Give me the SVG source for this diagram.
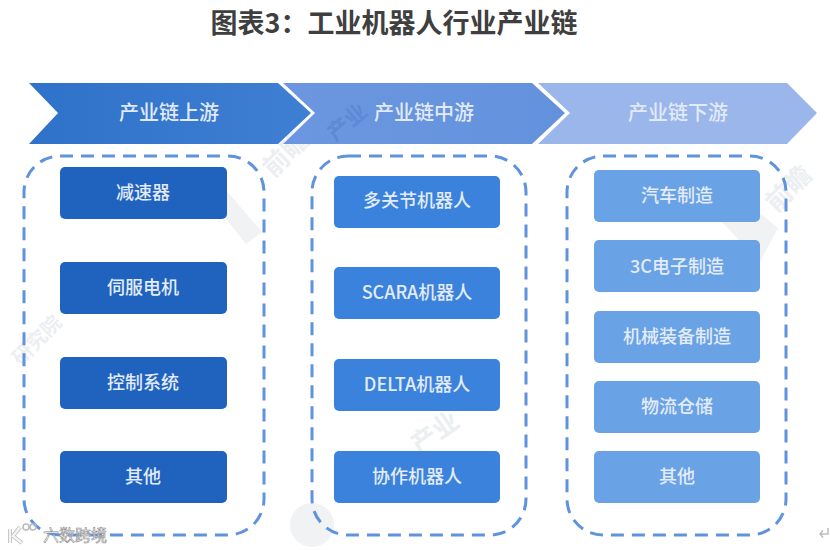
<svg xmlns="http://www.w3.org/2000/svg" width="830" height="550" viewBox="0 0 830 550">
<defs>
<style>
text{font-family:"Noto Sans CJK SC","Liberation Sans",sans-serif;text-anchor:middle}
.h{font-size:20px;font-weight:500;fill:#e1eaf8}
.n{font-size:18px;font-weight:500;fill:#e3ecf8}
.a{fill:#1f63bf}.b{fill:#3b82dc}.c{fill:#6aa2e6}
.d{fill:none;stroke:#5f93dc;stroke-width:3;stroke-dasharray:13 8}
.w{font-weight:700;fill:#eceff2}
.s{fill:#f1f2f4}
</style>
<linearGradient id="g1" x1="0" x2="1" y1="0" y2="0"><stop offset="0" stop-color="#2e72c9"/><stop offset="1" stop-color="#3f7fd3"/></linearGradient>
<linearGradient id="g2" x1="0" x2="1" y1="0" y2="0"><stop offset="0" stop-color="#6c97e0"/><stop offset="1" stop-color="#6392dc"/></linearGradient>
</defs>
<rect width="830" height="550" fill="#fff"/>
<g id="watermark">
<circle class="s" cx="312" cy="525" r="22"/>
<path class="s" d="M226 190 L262 232 L246 244 L214 204Z"/>
<path class="s" d="M722 222 L760 262 L778 228 L750 205Z"/>
<text class="w" x="0" y="0" transform="translate(292 160) rotate(-45)" style="font-size:26px">前瞻</text>
<text class="w" x="0" y="0" transform="translate(42 345) rotate(-45)" style="font-size:20px">研究院</text>
<text class="w" x="0" y="0" transform="translate(795 195) rotate(-45)" style="font-size:26px">前瞻</text>
<text class="w" x="0" y="0" transform="translate(440 440) rotate(-35)" style="font-size:26px">产业</text>
</g>
<text x="394" y="33" style="font-size:27px;font-weight:700;fill:#3f3f3f">图表3：工业机器人行业产业链</text>
<g id="connectors"></g>
<g id="stage-up"><polygon points="29,83 278,83 311,113 278,144 29,144 58,113" fill="url(#g1)"/><text class="h" x="169" y="120">产业链上游</text></g>
<g id="stage-mid"><polygon points="283,83 532,83 565,113 532,144 283,144 315,113" fill="url(#g2)"/><text class="w" x="0" y="0" transform="translate(352 128) rotate(-40)" style="font-size:22px;fill:#5d8ad6">产业</text><text class="h" x="424" y="120">产业链中游</text></g>
<g id="stage-down"><polygon points="538,83 787,83 817,113 787,144 538,144 570,113" fill="#9bb6ea"/><text class="h" x="678" y="120">产业链下游</text></g>
<g id="panel-up"><rect class="d" x="24" y="156" width="240" height="379" rx="36"/></g>
<g id="panel-mid"><rect class="d" x="312" y="156" width="214" height="379" rx="36"/></g>
<g id="panel-down"><rect class="d" x="567" y="156" width="219" height="379" rx="36"/></g>
<g id="n1"><rect class="a" x="60" y="167" width="167" height="52" rx="5"/><text class="n" x="143" y="199">减速器</text></g>
<g id="n2"><rect class="a" x="60" y="262" width="167" height="52" rx="5"/><text class="n" x="143" y="294">伺服电机</text></g>
<g id="n3"><rect class="a" x="60" y="357" width="167" height="52" rx="5"/><text class="n" x="143" y="389">控制系统</text></g>
<g id="n4"><rect class="a" x="60" y="451" width="167" height="52" rx="5"/><text class="n" x="143" y="483">其他</text></g>
<g id="n5"><rect class="b" x="334" y="176" width="166" height="52" rx="5"/><text class="n" x="417" y="207">多关节机器人</text></g>
<g id="n6"><rect class="b" x="334" y="267" width="166" height="52" rx="5"/><text class="n" x="417" y="299">SCARA机器人</text></g>
<g id="n7"><rect class="b" x="334" y="359" width="166" height="52" rx="5"/><text class="n" x="417" y="391">DELTA机器人</text></g>
<g id="n8"><rect class="b" x="334" y="451" width="166" height="52" rx="5"/><text class="n" x="417" y="483">协作机器人</text></g>
<g id="n9"><rect class="c" x="594" y="170" width="166" height="52" rx="5"/><text class="n" x="677" y="202">汽车制造</text></g>
<g id="n10"><rect class="c" x="594" y="240" width="166" height="52" rx="5"/><text class="n" x="677" y="273">3C电子制造</text></g>
<g id="n11"><rect class="c" x="594" y="311" width="166" height="52" rx="5"/><text class="n" x="677" y="343">机械装备制造</text></g>
<g id="n12"><rect class="c" x="594" y="381" width="166" height="52" rx="5"/><text class="n" x="677" y="413">物流仓储</text></g>
<g id="n13"><rect class="c" x="594" y="451" width="166" height="52" rx="5"/><text class="n" x="677" y="483">其他</text></g>
<g id="logo" fill="none" stroke="#f4f4f4" stroke-width="2.5">
<path d="M10 529 V543 M20 527 L13 536 L22 543" stroke="#b9b9b9" stroke-width="4"/>
<path d="M10 529 V543 M20 527 L13 536 L22 543"/>
<circle cx="26" cy="527" r="3" stroke="#b9b9b9" stroke-width="1.5"/>
<circle cx="33" cy="527" r="3" stroke="#b9b9b9" stroke-width="1.5"/>
</g>
<text x="75" y="541" style="font-size:16px;fill:#fff;stroke:#8f8f8f;stroke-width:.6">六数跨境</text>
<path id="return-mark" d="M828 528 V534 H820 M823 530.500 L820 534 L823 537.500" fill="none" stroke="#bdbdbd" stroke-width="1.500"/>
</svg>
